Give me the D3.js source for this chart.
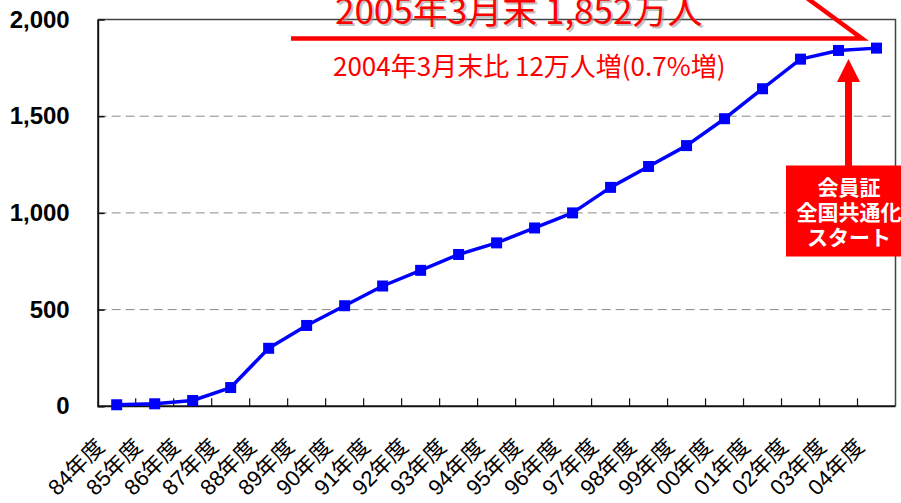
<!DOCTYPE html>
<html>
<head>
<meta charset="utf-8">
<script src="https://cdn.jsdelivr.net/npm/d3@7"></script>
<style>
  body { margin: 0; background: #fff; }
  svg { display: block; }
</style>
</head>
<body>
<svg id="chart"></svg>
<script>
// data
var years = ["84年度", "85年度", "86年度", "87年度", "88年度", "89年度", "90年度",
    "91年度", "92年度", "93年度", "94年度", "95年度", "96年度", "97年度", "98年度",
    "99年度", "00年度", "01年度", "02年度", "03年度", "04年度"];
var members = [8, 13, 30, 97, 300, 418, 520, 622, 703, 785, 845, 922, 1000, 1132,
    1240, 1348, 1487, 1642, 1795, 1840, 1852];
var yTicks = [0, 500, 1000, 1500, 2000];
var titleText = "2005年3月末 1,852万人";
var subText = "2004年3月末比 12万人増(0.7%増)";
var boxLines = ["会員証", "全国共通化", "スタート"];

var width = 901, height = 503;
var margin = { top: 19.5, right: 5.5, bottom: 96.7, left: 97.7 };

var svg = d3.select("#chart")
    .attr("width", width)
    .attr("height", height);

var x = d3.scaleBand()
    .domain(years)
    .range([margin.left, width - margin.right])
    .padding(0);

var y = d3.scaleLinear()
    .domain([0, 2000])
    .range([height - margin.bottom, margin.top]);

var jpFont = "'Liberation Sans', Arial, 'Noto Sans CJK JP', sans-serif";
var narrowFont = "'Liberation Sans Narrow', 'Arial Narrow', 'Noto Sans CJK JP', sans-serif";

// gridlines
svg.append("g").selectAll("line")
    .data(yTicks.filter(function (d) { return d > 0 && d < 2000; }))
    .enter().append("line")
    .attr("x1", margin.left)
    .attr("x2", width - margin.right)
    .attr("y1", function (d) { return y(d); })
    .attr("y2", function (d) { return y(d); })
    .attr("stroke", "#8a8a8a")
    .attr("stroke-width", 1)
    .attr("stroke-dasharray", "9,5");

// plot frame (top + right)
svg.append("path")
    .attr("d", "M" + margin.left + "," + y(2000) + "H" + (width - margin.right) + "V" + y(0))
    .attr("fill", "none")
    .attr("stroke", "#444")
    .attr("stroke-width", 1.5);

// y axis
var yAxis = svg.append("g")
    .attr("transform", "translate(" + margin.left + ",0)")
    .call(d3.axisLeft(y).tickValues(yTicks).tickSizeInner(-7).tickSizeOuter(0)
        .tickPadding(28).tickFormat(d3.format(",")));
yAxis.select(".domain").attr("stroke", "#111").attr("stroke-width", 2);
yAxis.selectAll(".tick line").attr("stroke", "#111").attr("stroke-width", 1.5);
yAxis.selectAll("text")
    .attr("fill", "#000")
    .style("font-family", jpFont)
    .style("font-size", "24px")
    .style("font-weight", "bold");

// x axis baseline + inward ticks at category boundaries
svg.append("line")
    .attr("x1", margin.left)
    .attr("x2", width - margin.right)
    .attr("y1", y(0))
    .attr("y2", y(0))
    .attr("stroke", "#111")
    .attr("stroke-width", 2);

svg.append("g").selectAll("line")
    .data(years.slice(1))
    .enter().append("line")
    .attr("x1", function (d) { return x(d); })
    .attr("x2", function (d) { return x(d); })
    .attr("y1", y(0))
    .attr("y2", y(0) - 8)
    .attr("stroke", "#111")
    .attr("stroke-width", 1.2);

// rotated category labels
svg.append("g").selectAll("text")
    .data(years)
    .enter().append("text")
    .attr("transform", function (d) {
        return "translate(" + (x(d) + x.bandwidth() / 2 - 11) + "," + (y(0) + 42) + ") rotate(-45)";
    })
    .attr("text-anchor", "end")
    .style("font-family", jpFont)
    .style("font-size", "22px")
    .attr("fill", "#000")
    .text(function (d) { return d; });

// series line
var line = d3.line()
    .x(function (d, i) { return x(years[i]) + x.bandwidth() / 2; })
    .y(function (d) { return y(d); });

svg.append("path")
    .datum(members)
    .attr("d", line)
    .attr("fill", "none")
    .attr("stroke", "#0000ff")
    .attr("stroke-width", 3.5)
    .attr("stroke-linejoin", "round");

var ms = 11;
svg.append("g").selectAll("rect")
    .data(members)
    .enter().append("rect")
    .attr("x", function (d, i) { return x(years[i]) + x.bandwidth() / 2 - ms / 2; })
    .attr("y", function (d) { return y(d) - ms / 2; })
    .attr("width", ms)
    .attr("height", ms)
    .attr("fill", "#0000ff");

// annotations
// callout line from the headline to the last point
svg.append("polyline")
    .attr("points", "291,38.5 862,38.5 796,-10")
    .attr("fill", "none")
    .attr("stroke", "#ff0000")
    .attr("stroke-width", 4.5)
    .attr("stroke-linejoin", "miter");

// headline with shadow
svg.append("text")
    .attr("x", 337)
    .attr("y", 26)
    .style("font-family", narrowFont)
    .style("font-size", "35px")
    .attr("fill", "#999")
    .attr("opacity", 0.6)
    .text(titleText);
svg.append("text")
    .attr("x", 335)
    .attr("y", 24)
    .style("font-family", narrowFont)
    .style("font-size", "35px")
    .attr("fill", "#ff0000")
    .text(titleText);

svg.append("text")
    .attr("x", 333)
    .attr("y", 76)
    .style("font-family", narrowFont)
    .style("font-size", "26px")
    .attr("fill", "#ff0000")
    .text(subText);

// arrow
var ax = 848.5;
svg.append("rect")
    .attr("x", ax - 3.5)
    .attr("y", 80)
    .attr("width", 7)
    .attr("height", 88)
    .attr("fill", "#ff0000");
svg.append("path")
    .attr("d", "M" + ax + ",59 L" + (ax + 11.5) + ",82 L" + (ax - 11.5) + ",82 Z")
    .attr("fill", "#ff0000");

// red box
svg.append("rect")
    .attr("x", 786)
    .attr("y", 165.5)
    .attr("width", 130)
    .attr("height", 91)
    .attr("fill", "#ff0000");

svg.append("g").selectAll("text")
    .data(boxLines)
    .enter().append("text")
    .attr("x", 849)
    .attr("y", function (d, i) { return 195 + i * 25; })
    .attr("text-anchor", "middle")
    .style("font-family", "'Noto Sans CJK JP', sans-serif")
    .style("font-size", "21px")
    .style("font-weight", "bold")
    .attr("fill", "#fff")
    .text(function (d) { return d; });
</script>
</body>
</html>
